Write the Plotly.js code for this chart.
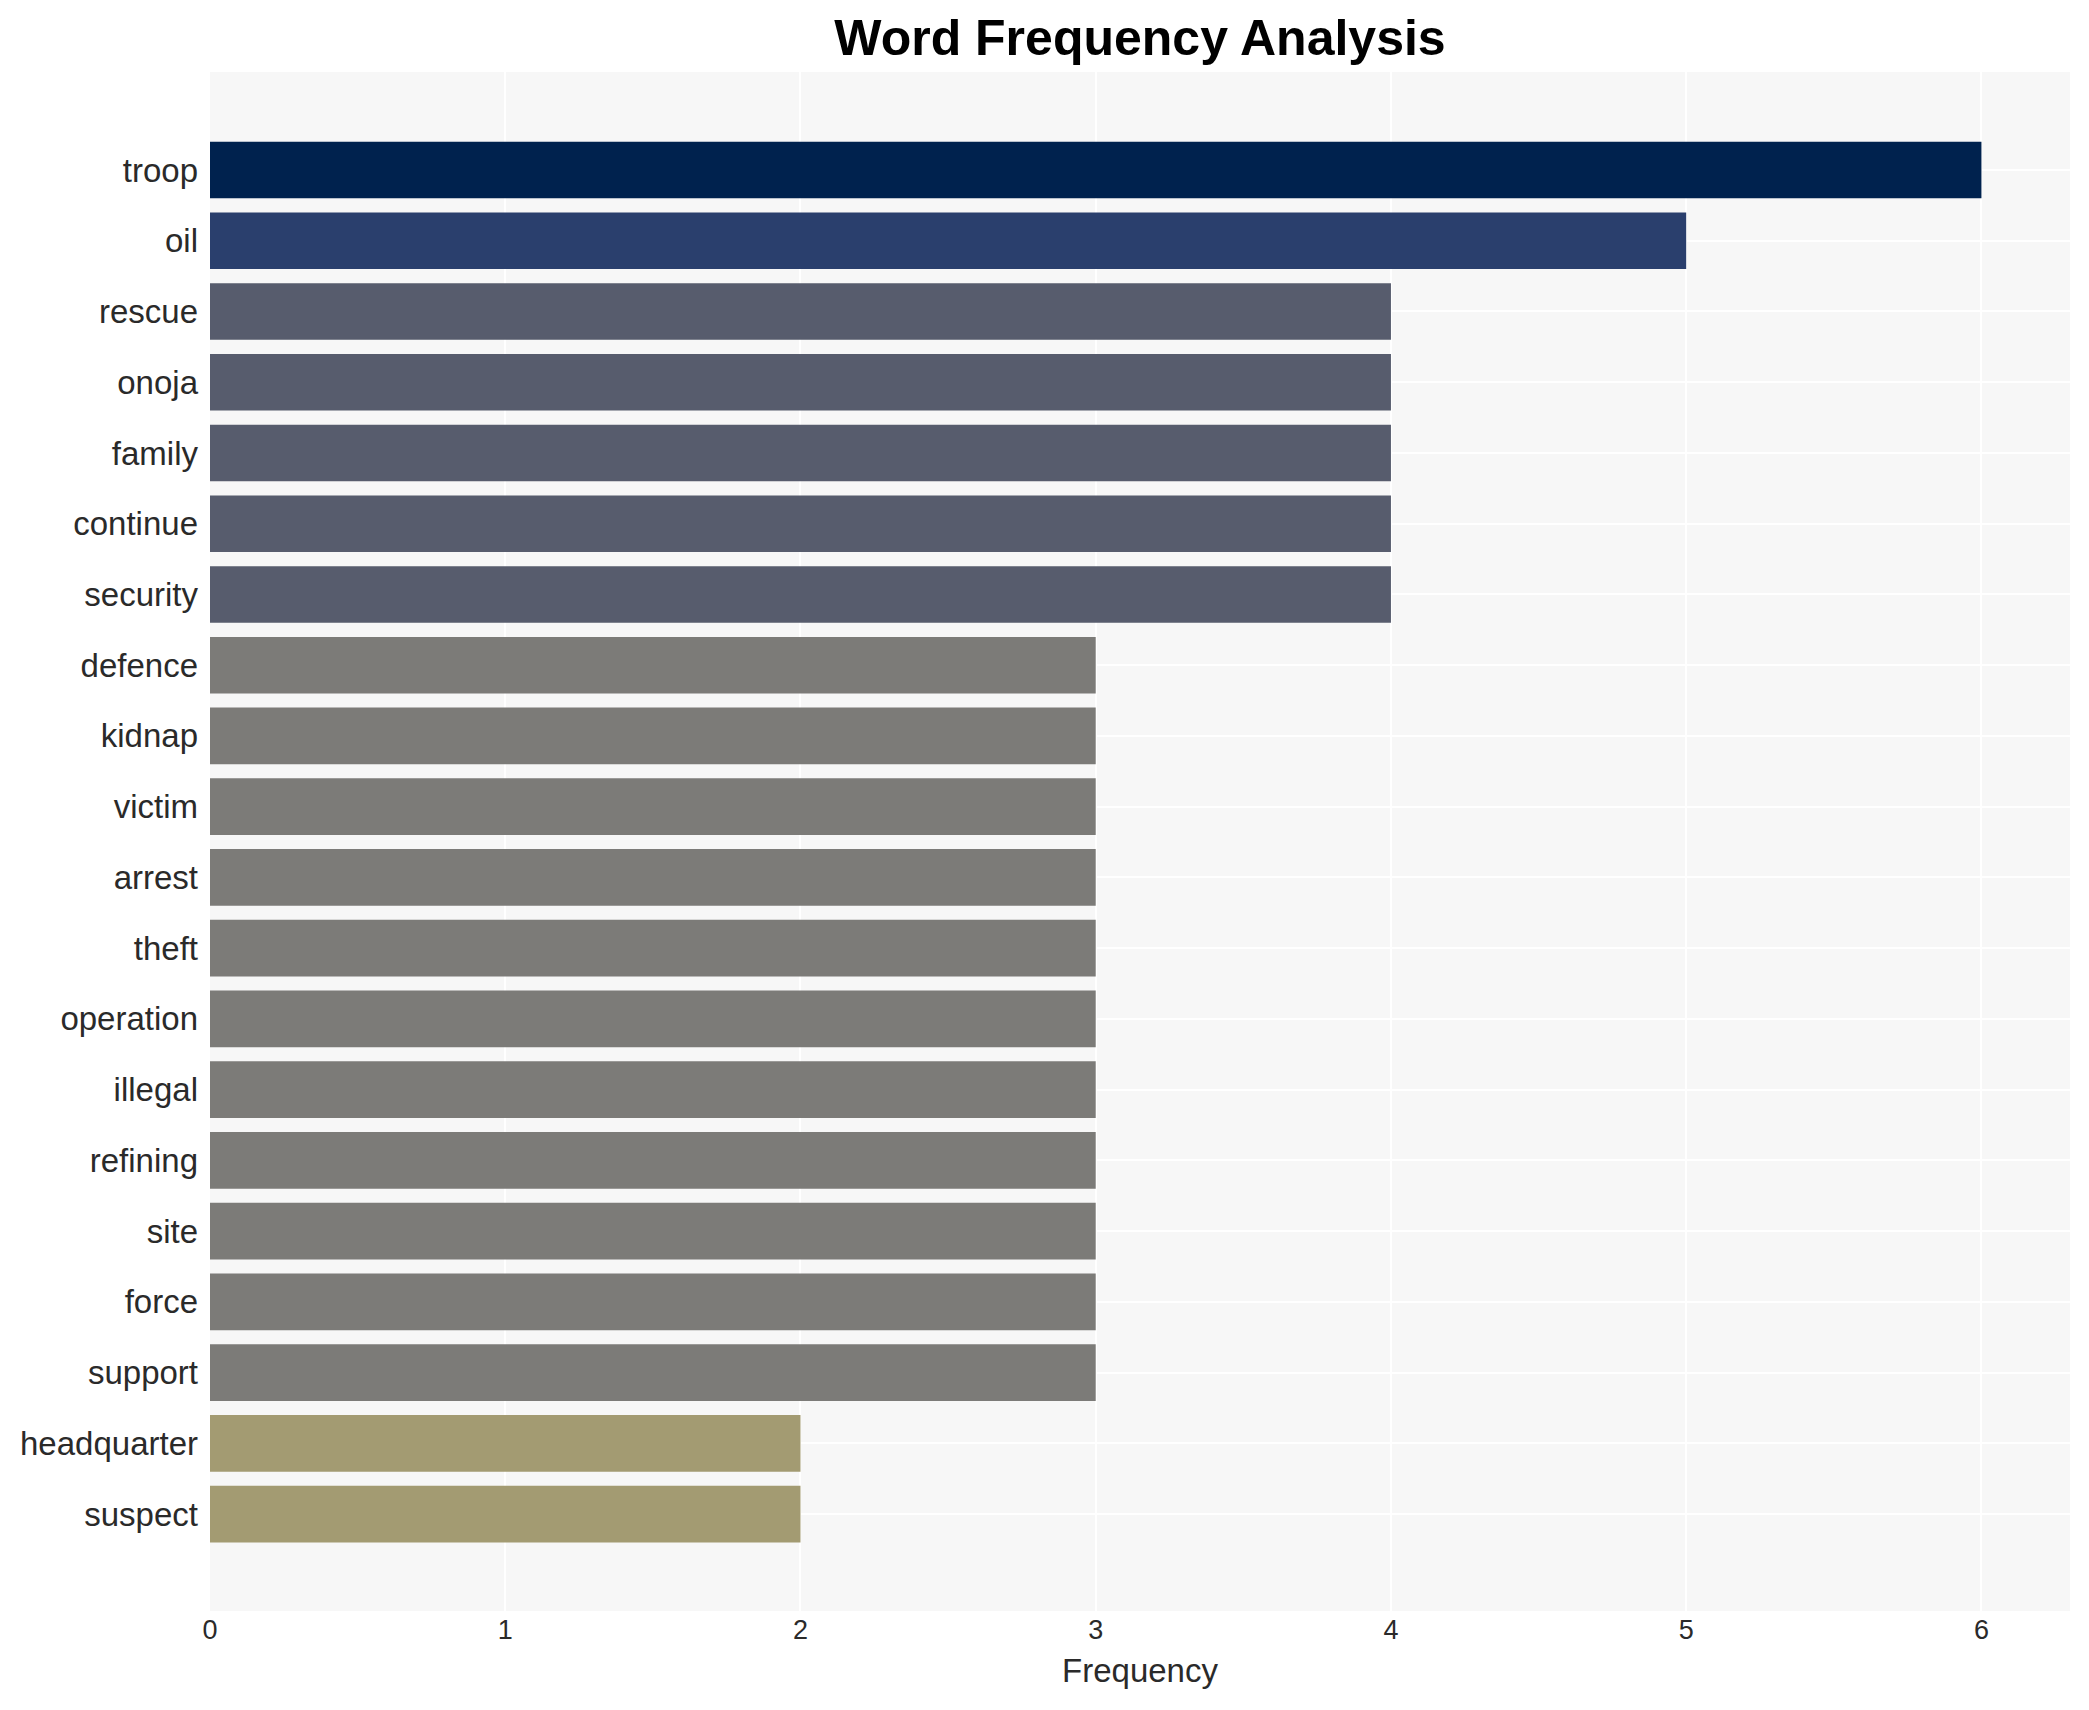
<!DOCTYPE html>
<html>
<head>
<meta charset="utf-8">
<script src="https://cdn.plot.ly/plotly-3.0.1.min.js"></script>
<style>html,body{margin:0;padding:0;background:#fff;}</style>
</head>
<body>
<div id="chart" style="width:2089px;height:1710px;"></div>
<script>
const words = ["troop","oil","rescue","onoja","family","continue","security","defence","kidnap","victim","arrest","theft","operation","illegal","refining","site","force","support","headquarter","suspect"];
const counts = [6,5,4,4,4,4,4,3,3,3,3,3,3,3,3,3,3,3,2,2];
const countColors = {6:"#00224e", 5:"#2a3f6d", 4:"#575c6d", 3:"#7c7b78", 2:"#a39b72"};
const xTicks = [0,1,2,3,4,5,6];

const trace = {
  type: "bar",
  orientation: "h",
  x: counts,
  y: words,
  width: 0.8,
  marker: {color: counts.map(c => countColors[c]), line: {width: 0}},
  hoverinfo: "x+y"
};

const layout = {
  width: 2089,
  height: 1710,
  margin: {l: 210, r: 19, t: 72, b: 99, pad: 0},
  paper_bgcolor: "#ffffff",
  plot_bgcolor: "#f7f7f7",
  showlegend: false,
  title: {
    text: "<b>Word Frequency Analysis</b>",
    font: {family: "Liberation Sans, Arial, sans-serif", size: 50, color: "#000000"},
    x: 0.5, xref: "paper", xanchor: "center",
    y: 0.978, yref: "container", yanchor: "middle"
  },
  xaxis: {
    range: [0, 6.3],
    tickvals: xTicks,
    ticktext: xTicks.map(String),
    showgrid: true, gridcolor: "#ffffff", gridwidth: 2,
    zeroline: false, showline: false, ticks: "",
    tickfont: {family: "Liberation Sans, Arial, sans-serif", size: 27, color: "#2a2a2a"},
    title: {text: "Frequency", standoff: 14,
      font: {family: "Liberation Sans, Arial, sans-serif", size: 33, color: "#2a2a2a"}}
  },
  yaxis: {
    type: "category",
    categoryorder: "array",
    categoryarray: words,
    range: [20.37, -1.385],
    showgrid: true, gridcolor: "#ffffff", gridwidth: 2,
    zeroline: false, showline: false, ticks: "",
    ticklabelstandoff: 11,
    tickfont: {family: "Liberation Sans, Arial, sans-serif", size: 33, color: "#2a2a2a"}
  },
  bargap: 0.2
};

Plotly.newPlot("chart", [trace], layout, {displayModeBar: false, staticPlot: true});
</script>
</body>
</html>
